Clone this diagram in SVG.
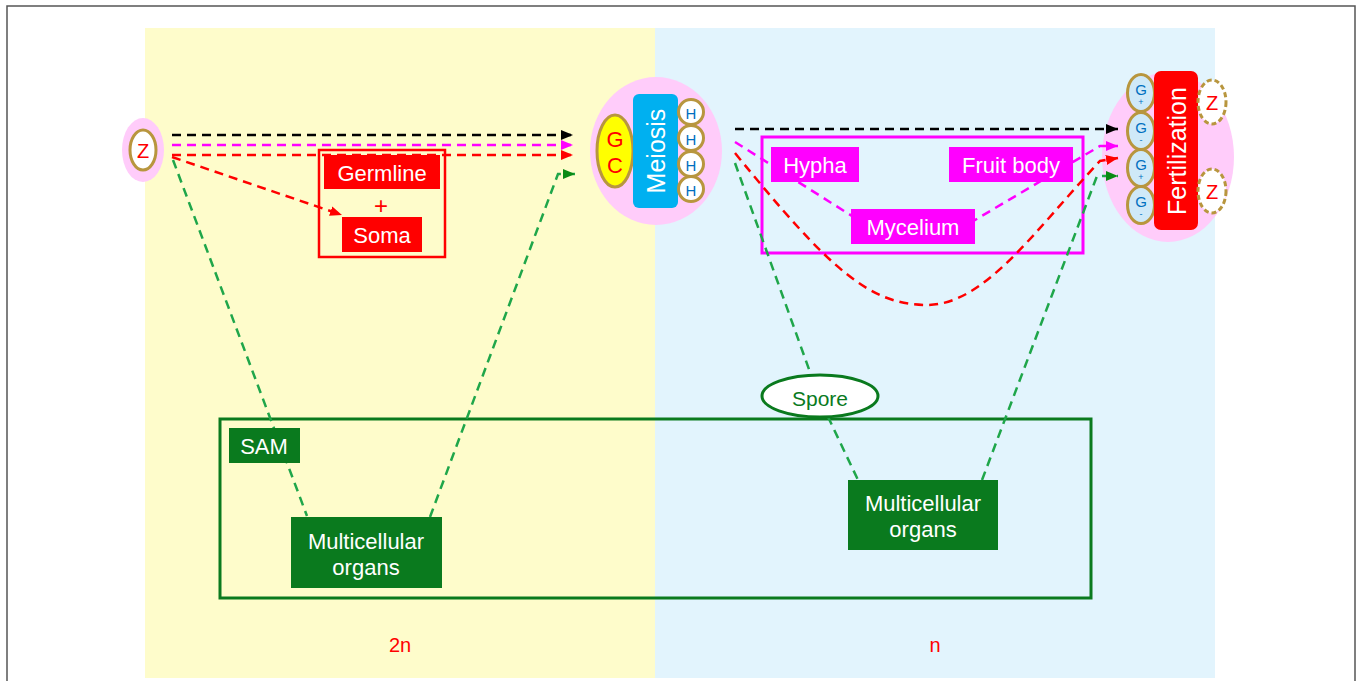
<svg xmlns="http://www.w3.org/2000/svg" width="1361" height="681" viewBox="0 0 1361 681">
<defs>
<style>
text{font-family:"Liberation Sans",Arial,sans-serif;text-anchor:middle;dominant-baseline:central}
.pink{fill:#FFCCFA}
.ol{stroke:#B8963E;stroke-width:3}
.dash{fill:none;stroke-width:2.5;stroke-dasharray:9 6}
.k{stroke:#000}
.m{stroke:#FF00FF}
.r{stroke:#FF0000}
.g{stroke:#1FA64A}
.wt{fill:#fff;font-size:22px}
.rt{fill:#FF0000}
.bt{fill:#0070C0}
.mbox{fill:#FF00FF}
.gbox{fill:#0A7A1E}
.rbox{fill:#FF0000}
</style>
<marker id="ak" markerUnits="userSpaceOnUse" markerWidth="12" markerHeight="10" refX="12" refY="5" orient="auto"><path d="M0,0L12,5L0,10z" fill="#000"/></marker>
<marker id="am" markerUnits="userSpaceOnUse" markerWidth="12" markerHeight="10" refX="12" refY="5" orient="auto"><path d="M0,0L12,5L0,10z" fill="#FF00FF"/></marker>
<marker id="ar" markerUnits="userSpaceOnUse" markerWidth="12" markerHeight="10" refX="12" refY="5" orient="auto"><path d="M0,0L12,5L0,10z" fill="#FF0000"/></marker>
<marker id="ag" markerUnits="userSpaceOnUse" markerWidth="12" markerHeight="10" refX="12" refY="5" orient="auto"><path d="M0,0L12,5L0,10z" fill="#0A8A14"/></marker>
</defs>
<rect x="0" y="0" width="1361" height="681" fill="#fff"/>
<rect x="7" y="6" width="1348" height="690" fill="#fff" stroke="#555" stroke-width="1.5"/>
<g id="panels">
<rect x="145" y="28" width="510" height="650" fill="#FEFCCB"/>
<rect x="655" y="28" width="560" height="650" fill="#E2F4FD"/>
<text x="400" y="645" class="rt" font-size="20">2n</text>
<text x="935" y="645" class="rt" font-size="20">n</text>
</g>
<g id="frames">
<rect x="220" y="419" width="871" height="179" fill="none" stroke="#0A7A1E" stroke-width="3"/>
<rect x="762" y="137" width="321" height="116" fill="none" stroke="#FF00FF" stroke-width="3"/>
<rect x="319" y="150" width="126" height="107" fill="none" stroke="#FF0000" stroke-width="2.5"/>
</g>
<g id="node-z">
<ellipse cx="143" cy="150" rx="21" ry="32" class="pink"/>
<ellipse cx="143" cy="150" rx="13" ry="20" fill="#fff" class="ol"/>
<text x="143" y="151" class="rt" font-size="20">Z</text>
</g>
<g id="node-meiosis">
<ellipse cx="656" cy="151" rx="66" ry="74" class="pink"/>
<ellipse cx="615" cy="151" rx="18" ry="36" fill="#FFFF00" class="ol"/>
<text x="615" y="139" class="rt" font-size="22">G</text>
<text x="615" y="165" class="rt" font-size="22">C</text>
<rect x="633" y="94" width="45" height="114" rx="6" fill="#00B0F0"/>
<text transform="translate(656,151) rotate(-90)" fill="#fff" font-size="25">Meiosis</text>
<g font-size="15">
<circle cx="691" cy="112" r="12.5" fill="#fff" class="ol"/><text x="691" y="113" class="bt">H</text>
<circle cx="691" cy="138" r="12.5" fill="#fff" class="ol"/><text x="691" y="139" class="bt">H</text>
<circle cx="691" cy="164" r="12.5" fill="#fff" class="ol"/><text x="691" y="165" class="bt">H</text>
<circle cx="691" cy="189" r="12.5" fill="#fff" class="ol"/><text x="691" y="190" class="bt">H</text>
</g>
</g>
<g id="node-fertilization">
<ellipse cx="1168" cy="157" rx="66" ry="85" class="pink"/>
<g>
<ellipse cx="1141" cy="93" rx="13.5" ry="18.5" fill="#CFE9F8" class="ol"/><text x="1141" y="89" class="bt" font-size="15">G</text><text x="1141" y="102" class="bt" font-size="9">+</text>
<ellipse cx="1141" cy="131" rx="13.5" ry="18.5" fill="#CFE9F8" class="ol"/><text x="1141" y="127" class="bt" font-size="15">G</text><text x="1141" y="140" class="bt" font-size="9">-</text>
<ellipse cx="1141" cy="168" rx="13.5" ry="18.5" fill="#CFE9F8" class="ol"/><text x="1141" y="164" class="bt" font-size="15">G</text><text x="1141" y="177" class="bt" font-size="9">+</text>
<ellipse cx="1141" cy="205" rx="13.5" ry="18.5" fill="#CFE9F8" class="ol"/><text x="1141" y="201" class="bt" font-size="15">G</text><text x="1141" y="214" class="bt" font-size="9">-</text>
</g>
<rect x="1154" y="71" width="44" height="159" rx="7" fill="#FF0000"/>
<text transform="translate(1177,151) rotate(-90)" fill="#fff" font-size="25">Fertilization</text>
<ellipse cx="1212" cy="102" rx="14" ry="22" fill="#fff" class="ol" stroke-dasharray="5 3"/>
<text x="1212" y="103" class="rt" font-size="20">Z</text>
<ellipse cx="1212" cy="191" rx="14" ry="22" fill="#fff" class="ol" stroke-dasharray="5 3"/>
<text x="1212" y="192" class="rt" font-size="20">Z</text>
</g>
<g id="connectors">
<path class="dash k" d="M172,135H573" marker-end="url(#ak)"/>
<path class="dash m" d="M172,145H573" marker-end="url(#am)"/>
<path class="dash r" d="M172,155H573" marker-end="url(#ar)"/>
<path class="dash r" d="M172,157L342,215" marker-end="url(#ar)"/>
<path class="dash g" d="M173,160L307,516"/>
<path class="dash g" d="M430,517L558,174H575" marker-end="url(#ag)"/>
<path class="dash k" d="M735,129H1118" marker-end="url(#ak)"/>
<path class="dash m" d="M735,142L852,216L975,220L1100,146H1118" marker-end="url(#am)"/>
<path class="dash r" d="M735,153C830,270 870,305 927,305C985,305 1035,230 1100,161L1118,158" marker-end="url(#ar)"/>
<path class="dash g" d="M735,163L820,400L858,480"/>
<path class="dash g" d="M982,480L1097,176H1118" marker-end="url(#ag)"/>
</g>
<g id="node-germline">
<rect x="324" y="155" width="116" height="34" class="rbox"/>
<text x="382" y="173" class="wt">Germline</text>
</g>
<g id="node-plus"><text x="381" y="205" class="rt" font-size="24">+</text></g>
<g id="node-soma">
<rect x="342" y="217" width="80" height="35" class="rbox"/>
<text x="382" y="235" class="wt">Soma</text>
</g>
<g id="node-hypha">
<rect x="771" y="147" width="88" height="35" class="mbox"/>
<text x="815" y="165" class="wt">Hypha</text>
</g>
<g id="node-fruitbody">
<rect x="949" y="147" width="124" height="35" class="mbox"/>
<text x="1011" y="165" class="wt">Fruit body</text>
</g>
<g id="node-mycelium">
<rect x="851" y="209" width="124" height="35" class="mbox"/>
<text x="913" y="227" class="wt">Mycelium</text>
</g>
<g id="node-sam">
<rect x="229" y="428" width="71" height="35" class="gbox"/>
<text x="264" y="446" class="wt">SAM</text>
</g>
<g id="node-organs-left">
<rect x="291" y="517" width="151" height="71" class="gbox"/>
<text x="366" y="541" class="wt" font-size="21">Multicellular</text>
<text x="366" y="567" class="wt" font-size="21">organs</text>
</g>
<g id="node-organs-right">
<rect x="848" y="480" width="150" height="70" class="gbox"/>
<text x="923" y="503" class="wt" font-size="21">Multicellular</text>
<text x="923" y="529" class="wt" font-size="21">organs</text>
</g>
<g id="node-spore">
<ellipse cx="820" cy="396" rx="58" ry="21" fill="#fff" stroke="#0A7A1E" stroke-width="3"/>
<text x="820" y="398" fill="#0A7A1E" font-size="21">Spore</text>
</g>
</svg>
